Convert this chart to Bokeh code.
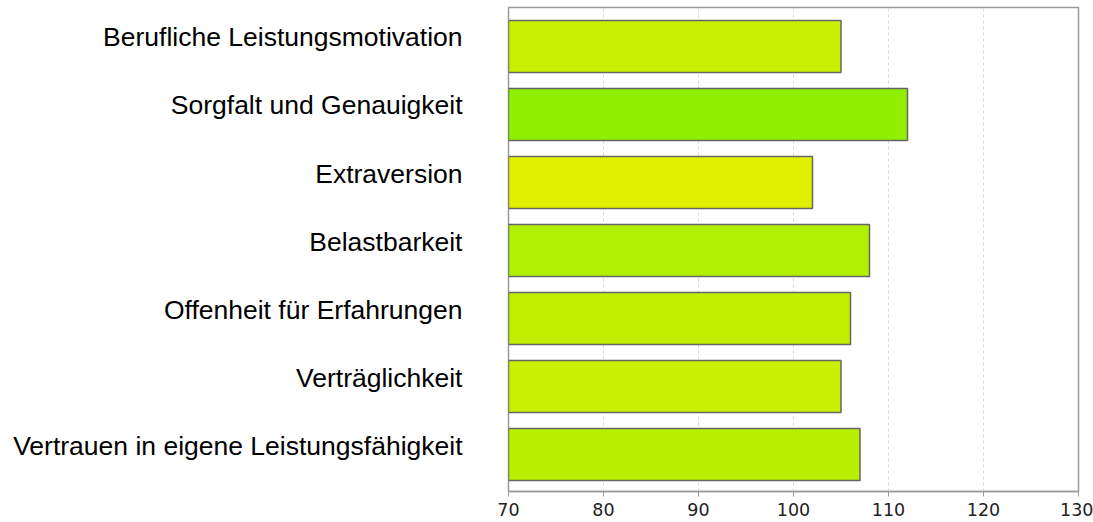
from bokeh.plotting import figure
from bokeh.models import ColumnDataSource, Range1d, SingleIntervalTicker, FixedTicker
from bokeh.transform import dodge
from bokeh.embed import file_html
from bokeh.resources import INLINE

categories = [
    "Berufliche Leistungsmotivation",
    "Sorgfalt und Genauigkeit",
    "Extraversion",
    "Belastbarkeit",
    "Offenheit für Erfahrungen",
    "Verträglichkeit",
    "Vertrauen in eigene Leistungsfähigkeit",
]
values = [105, 112, 102, 108, 106, 105, 107]
colors = ["#c8f000", "#90f000", "#e0f000", "#b0f000", "#c0f000", "#c8f000", "#b8f000"]
x_start, x_end = 70, 130

n = len(categories)
pos = list(range(n - 1, -1, -1))      # first category at the top

src = ColumnDataSource(dict(cat=categories, pos=pos, value=values, color=colors,
                            base=[x_start] * n))

p = figure(width=1093, height=522, output_backend="svg", toolbar_location=None,
           y_range=Range1d(-0.676, n - 1 + 0.441),
           x_range=Range1d(x_start, x_end),
           min_border_left=508, min_border_right=15, min_border_top=7, min_border_bottom=31)

# bars sit slightly below their labels, as in the original
p.hbar(y=dodge("pos", -0.132), left="base", right="value", height=0.765, source=src,
       fill_color="color", line_color="#666666", line_width=1.5)

p.background_fill_color = "white"
p.border_fill_color = "white"
p.outline_line_color = "#9a9a9a"
p.outline_line_width = 1.5

p.yaxis.ticker = FixedTicker(ticks=pos)
p.yaxis.major_label_overrides = {k: c for k, c in zip(pos, categories)}
p.yaxis.axis_line_color = None
p.yaxis.major_tick_line_color = None
p.yaxis.minor_tick_line_color = None
p.yaxis.major_label_standoff = 40
p.yaxis.major_label_text_font = "Liberation Sans"
p.yaxis.major_label_text_font_size = "26.5px"
p.yaxis.major_label_text_color = "#000000"

p.xaxis.ticker = SingleIntervalTicker(interval=10)
p.xaxis.minor_tick_line_color = None
p.xaxis.major_tick_out = 5
p.xaxis.major_tick_in = 0
p.xaxis.major_tick_line_color = "#9a9a9a"
p.xaxis.axis_line_color = "#9a9a9a"
p.xaxis.axis_line_width = 1.5
p.xaxis.major_label_text_font = "DejaVu Sans"
p.xaxis.major_label_text_font_size = "17.5px"
p.xaxis.major_label_text_color = "#222222"
p.xaxis.major_label_standoff = 6

p.ygrid.grid_line_color = None
p.xgrid.grid_line_color = "#d8d8d8"
p.xgrid.grid_line_dash = "3 3"
p.xgrid.grid_line_width = 1

open("out.html", "w").write(file_html(p, INLINE))
